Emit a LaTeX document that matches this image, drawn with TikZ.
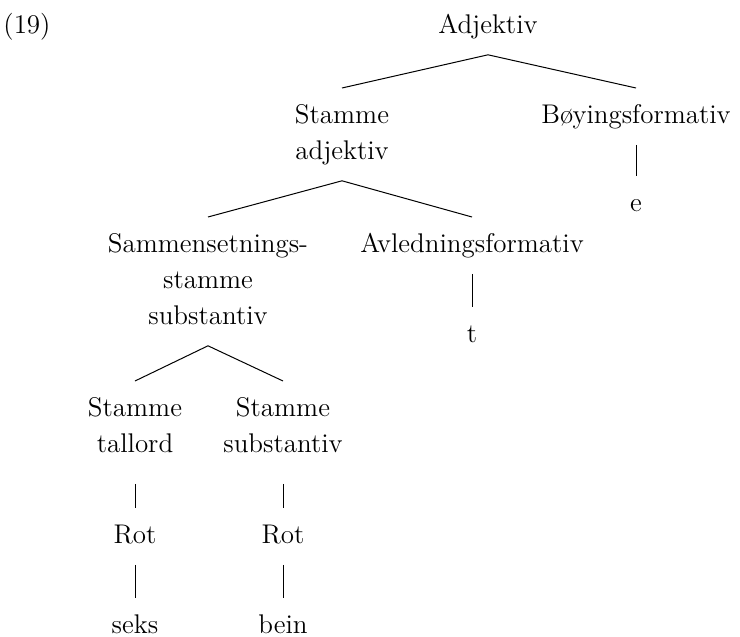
\documentclass[tikz,border=0pt]{standalone}
\usepackage{tikz}

\begin{document}
\begin{tikzpicture}[x=0.5pt, y=-0.5pt,
  lab/.style={anchor=north, align=center, inner xsep=0pt, inner ysep=5pt,
    font=\fontsize{13.5}{18}\selectfont},
  branch/.style={line width=0.5pt}]
\useasboundingbox (0,0) rectangle (740,637);
\node[lab](ex) at (27,-2){\strut(19)};
\node[lab](adj) at (488,-2){\strut Adjektiv};
\node[lab](stadj) at (342,88){\strut Stamme\\\strut adjektiv};
\node[lab](boy) at (636,88){\strut Bøyingsformativ};
\node[lab](e) at (636,176){\strut e};
\node[lab](samm) at (208,217){\strut Sammensetnings-\\\strut stamme\\\strut substantiv};
\node[lab](avl) at (472,217){\strut Avledningsformativ};
\node[lab](t) at (472,307){\strut t};
\node[lab](sttall) at (135,381){\strut Stamme\\\strut tallord};
\node[lab](stsub) at (283,381){\strut Stamme\\\strut substantiv};
\node[lab](rot1) at (135,508){\strut Rot};
\node[lab](rot2) at (283,508){\strut Rot};
\node[lab](seks) at (135,598){\strut seks};
\node[lab](bein) at (283,598){\strut bein};
\draw[branch] (adj.south) -- (stadj.north);
\draw[branch] (adj.south) -- (boy.north);
\draw[branch] (boy.south) -- (e.north);
\draw[branch] (stadj.south) -- (samm.north);
\draw[branch] (stadj.south) -- (avl.north);
\draw[branch] (avl.south) -- (t.north);
\draw[branch] (samm.south) -- (sttall.north);
\draw[branch] (samm.south) -- (stsub.north);
\draw[branch] ([yshift=-5pt]sttall.south) -- (rot1.north);
\draw[branch] ([yshift=-5pt]stsub.south) -- (rot2.north);
\draw[branch] (rot1.south) -- (seks.north);
\draw[branch] (rot2.south) -- (bein.north);
\end{tikzpicture}
\end{document}
